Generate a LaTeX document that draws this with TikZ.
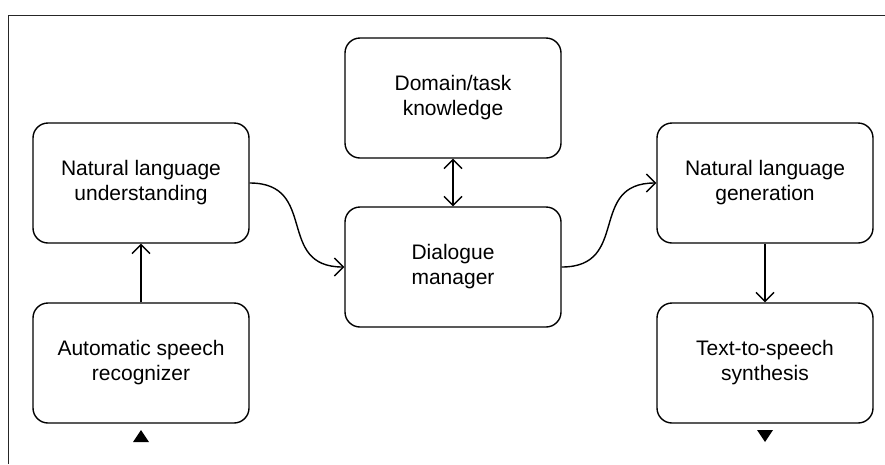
\documentclass[tikz,border=0pt]{standalone}
\usepackage{fontspec}
\setmainfont{Liberation Sans}
\usetikzlibrary{arrows.meta}
\begin{document}
\begin{tikzpicture}[x=1pt,y=-1pt,
  module/.style={draw, line width=1.4pt, rounded corners=15pt, minimum width=216pt, minimum height=120pt,
    align=center, font=\fontsize{21pt}{25pt}\selectfont, inner sep=0pt},
  flow/.style={line width=1.4pt, -{Straight Barb[length=9pt,width=18pt,line width=1.4pt]}},
  flow2/.style={line width=1.4pt, {Straight Barb[length=9pt,width=18pt,line width=1.4pt]}-{Straight Barb[length=9pt,width=18pt,line width=1.4pt]}},
  tri/.style={fill=black, draw=none}
]
\useasboundingbox (0,0) rectangle (885,464);
\fill[white] (0,0) rectangle (885,464);
\draw[line width=1.8pt, draw=black!85] (8.5,464) -- (8.5,15.5) -- (885,15.5);

\node[module] (nlu) at (141,183) {Natural language\\understanding};
\node[module] (asr) at (141,363) {Automatic speech\\recognizer};
\node[module] (dom) at (453,98) {Domain/task\\knowledge};
\node[module] (dm) at (453,267) {Dialogue\\manager};
\node[module] (nlg) at (765,183) {Natural language\\generation};
\node[module] (tts) at (765,363) {Text-to-speech\\synthesis};

\draw[flow] (asr.north) -- (nlu.south);
\draw[flow2] (dom.south) -- (dm.north);
\draw[flow] (nlg.south) -- (tts.north);
\draw[flow] (nlu.east) to[out=0,in=180,looseness=1.4] (dm.west);
\draw[flow] (dm.east) to[out=0,in=180,looseness=1.4] (nlg.west);

\coordinate (inp) at (141,436);
\coordinate (outp) at (765,436);
\fill[tri] (inp) ++(0,-6) -- ++(8,12) -- ++(-16,0) -- cycle;
\fill[tri] (outp) ++(0,6) -- ++(8,-12) -- ++(-16,0) -- cycle;
\end{tikzpicture}
\end{document}
